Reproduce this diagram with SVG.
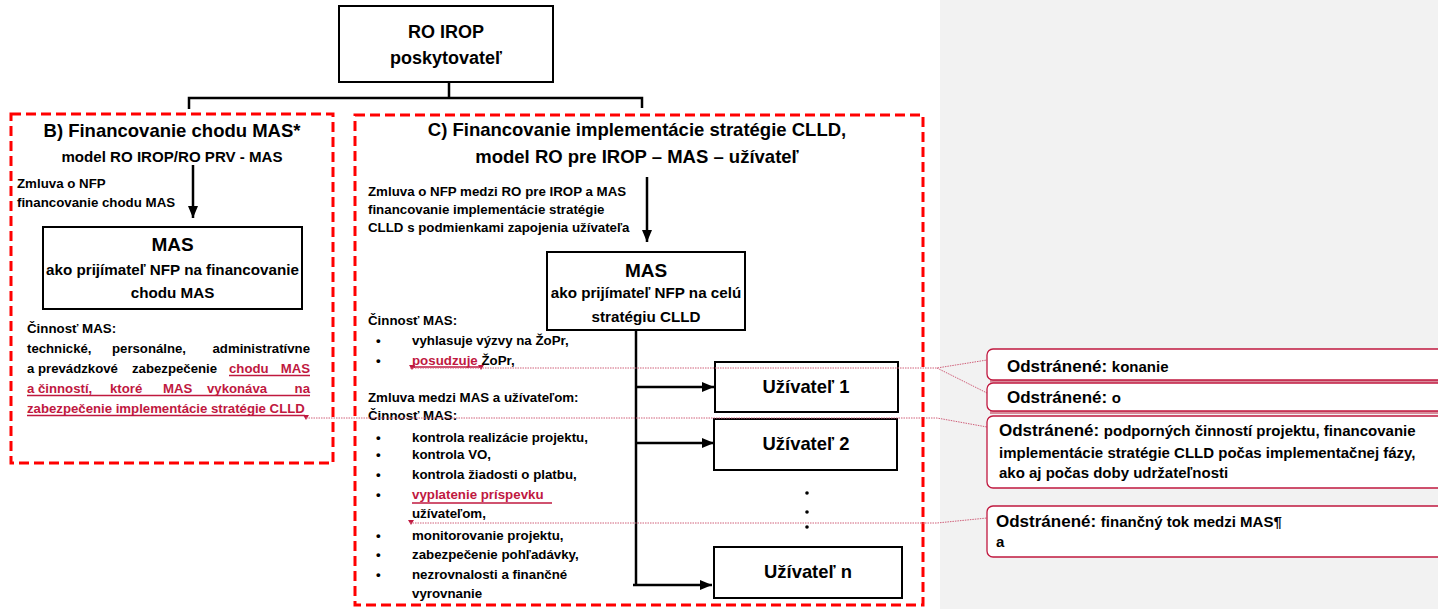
<svg xmlns="http://www.w3.org/2000/svg" width="1438" height="609" viewBox="0 0 1438 609">
<style>
text{font-family:"Liberation Sans",Arial,sans-serif;font-weight:bold;fill:#000}
.box{fill:#fff;stroke:#000;stroke-width:2}
.dash{fill:none;stroke:#ff0000;stroke-width:3;stroke-dasharray:10 5}
.c{text-anchor:middle}
.t13{font-size:13.3px}
.ttl{font-size:18.5px}
.red{fill:#c0183f}
.ul{stroke:#c0183f;stroke-width:1.3}
.con{fill:none;stroke:#000;stroke-width:2.5}
.trk{fill:none;stroke:#d0607a;stroke-width:1;stroke-dasharray:1.5 1}
.cmt{fill:#fff;stroke:#c0183f;stroke-width:1.3}
.car{fill:#c0183f}
.ct{font-size:15px}
.cb{font-size:17px}
</style>
<defs>
<marker id="ah" markerUnits="userSpaceOnUse" markerWidth="12" markerHeight="10" refX="12" refY="5" orient="auto">
<path d="M0,0 L12,5 L0,10 z" fill="#000"/>
</marker>
</defs>
<rect x="0" y="0" width="1438" height="609" fill="#fff"/>
<rect x="940" y="0" width="498" height="609" fill="#f2f2f2"/>

<g id="connectors">
<path class="con" d="M449 82 V98 M189 109 V98 H642 V108"/>
<line class="con" x1="193" y1="165" x2="193" y2="218" marker-end="url(#ah)"/>
<line class="con" x1="647" y1="177" x2="647" y2="242" marker-end="url(#ah)"/>
<path class="con" d="M636 330 V585"/>
<line class="con" x1="636" y1="387" x2="714" y2="387" marker-end="url(#ah)"/>
<line class="con" x1="636" y1="443" x2="714" y2="443" marker-end="url(#ah)"/>
<line class="con" x1="633" y1="585" x2="712" y2="585" marker-end="url(#ah)"/>
</g>

<g id="ro-irop">
<rect class="box" x="339" y="6" width="214" height="76"/>
<text class="c" x="446" y="38" font-size="18">RO IROP</text>
<text class="c" x="446" y="64" font-size="18">poskytovateľ</text>
</g>

<g id="section-b">
<rect class="dash" x="11" y="114" width="322" height="349"/>
<text class="c ttl" x="172" y="137">B) Financovanie chodu MAS*</text>
<text class="c" x="172" y="162" font-size="15.1">model RO IROP/RO PRV - MAS</text>
<text class="t13" x="17" y="188">Zmluva o NFP</text>
<text class="t13" x="17" y="207">financovanie chodu MAS</text>
<text class="t13" x="27" y="333">Činnosť MAS:</text>
<g font-size="13.2">
<text x="27" y="353" font-size="13.2">technické,</text>
<text x="112" y="353" font-size="13.2">personálne,</text>
<text x="310" y="353" font-size="13.2" text-anchor="end">administratívne</text>
<text x="27" y="373" font-size="13.2">a prevádzkové</text>
<text x="132" y="373" font-size="13.2">zabezpečenie</text>
<text class="red" x="229" y="373" font-size="13.2">chodu</text>
<text class="red" x="310" y="373" font-size="13.2" text-anchor="end">MAS</text>
<text class="red" x="27" y="393" font-size="13.2">a činností,</text>
<text class="red" x="110" y="393" font-size="13.2">ktoré</text>
<text class="red" x="163" y="393" font-size="13.2">MAS</text>
<text class="red" x="207" y="393" font-size="13.2">vykonáva</text>
<text class="red" x="310" y="393" font-size="13.2" text-anchor="end">na</text>
<text class="red" x="27" y="413" font-size="13.2">zabezpečenie implementácie stratégie CLLD</text>
</g>
<line class="ul" x1="229" y1="375.5" x2="310" y2="375.5"/>
<line class="ul" x1="27" y1="395.5" x2="310" y2="395.5"/>
<line class="ul" x1="27" y1="415.5" x2="305" y2="415.5"/>
<path class="car" d="M303 415 L309 415 L306 420 z"/>
</g>

<g id="mas-b">
<rect class="box" x="43" y="227" width="259" height="82"/>
<text class="c" x="172.5" y="251" font-size="19">MAS</text>
<text class="c" x="172.5" y="275" font-size="15.2">ako prijímateľ NFP na financovanie</text>
<text class="c" x="172.5" y="298" font-size="15.2">chodu MAS</text>
</g>

<g id="section-c">
<rect class="dash" x="355" y="115" width="568" height="490"/>
<text class="c ttl" x="637" y="136">C) Financovanie implementácie stratégie CLLD,</text>
<text class="c ttl" x="637" y="163">model RO pre IROP – MAS – užívateľ</text>
<text class="t13" x="368" y="196">Zmluva o NFP medzi RO pre IROP a MAS</text>
<text class="t13" x="368" y="214">financovanie implementácie stratégie</text>
<text class="t13" x="368" y="232">CLLD s podmienkami zapojenia užívateľa</text>
<text class="t13" x="368" y="325">Činnosť MAS:</text>
<g class="t13">
<text x="376" y="345" class="t13">•</text><text x="412" y="345" class="t13">vyhlasuje výzvy na ŽoPr,</text>
<text x="376" y="365" class="t13">•</text><text x="412" y="365" class="t13"><tspan class="red">posudzuje </tspan>ŽoPr,</text>
<text x="368" y="402" class="t13">Zmluva medzi MAS a užívateľom:</text>
<text x="368" y="420" class="t13">Činnosť MAS:</text>
<text x="376" y="442" class="t13">•</text><text x="412" y="442" class="t13">kontrola realizácie projektu,</text>
<text x="376" y="459" class="t13">•</text><text x="412" y="459" class="t13">kontrola VO,</text>
<text x="376" y="479" class="t13">•</text><text x="412" y="479" class="t13">kontrola žiadosti o platbu,</text>
<text x="376" y="499" class="t13">•</text><text x="412" y="499" class="t13 red">vyplatenie príspevku</text>
<text x="412" y="518" class="t13">užívateľom,</text>
<text x="376" y="540" class="t13">•</text><text x="412" y="540" class="t13">monitorovanie projektu,</text>
<text x="376" y="559" class="t13">•</text><text x="412" y="559" class="t13">zabezpečenie pohľadávky,</text>
<text x="376" y="579" class="t13">•</text><text x="412" y="579" class="t13">nezrovnalosti a finančné</text>
<text x="412" y="598" class="t13">vyrovnanie</text>
</g>
<line class="ul" x1="412" y1="367" x2="480" y2="367"/>
<line class="ul" x1="412" y1="503" x2="552" y2="503"/>
<path class="car" d="M409 365 L415 365 L412 370 z"/>
<path class="car" d="M478 365 L484 365 L481 370 z"/>
<path class="car" d="M408 520 L414 520 L411 525 z"/>
</g>

<g id="mas-c">
<rect class="box" x="547" y="252" width="198" height="78"/>
<text class="c" x="646" y="277" font-size="19">MAS</text>
<text class="c" x="646" y="298" font-size="15.2">ako prijímateľ NFP na celú</text>
<text class="c" x="646" y="322" font-size="15.2">stratégiu CLLD</text>
</g>

<g id="uzivatel-1">
<rect class="box" x="715" y="362" width="183" height="50"/>
<text class="c" x="806" y="393" font-size="18.4">Užívateľ 1</text>
</g>
<g id="uzivatel-2">
<rect class="box" x="714" y="419" width="183" height="51"/>
<text class="c" x="806" y="450" font-size="18.4">Užívateľ 2</text>
</g>
<g id="dots">
<circle cx="807" cy="493" r="1.8"/>
<circle cx="807" cy="512" r="1.8"/>
<circle cx="807" cy="527" r="1.8"/>
</g>
<g id="uzivatel-n">
<rect class="box" x="714" y="547" width="188" height="51"/>
<text class="c" x="808" y="578" font-size="18.4">Užívateľ n</text>
</g>

<g id="track-lines">
<path class="trk" d="M410 368 H937 L987 360 M937 368 L987 393"/>
<path class="trk" d="M306 418 H937 L987 427"/>
<path class="trk" d="M410 523 H937 L987 518"/>
</g>

<g id="comment-1">
<line x1="990" y1="381" x2="1438" y2="381" stroke="#d98a9a" stroke-width="3"/>
<rect class="cmt" x="987" y="349" width="470" height="31" rx="6"/>
<text x="1007" y="372"><tspan class="cb">Odstránené: </tspan><tspan class="ct">konanie</tspan></text>
</g>
<g id="comment-2">
<line x1="990" y1="412.5" x2="1438" y2="412.5" stroke="#d98a9a" stroke-width="3"/>
<rect class="cmt" x="987" y="383" width="470" height="28" rx="6"/>
<text x="1007" y="403"><tspan class="cb">Odstránené: </tspan><tspan class="ct">o</tspan></text>
</g>
<g id="comment-3">
<rect class="cmt" x="987" y="416" width="470" height="72" rx="6"/>
<text x="999" y="436"><tspan class="cb">Odstránené: </tspan><tspan class="ct">podporných činností projektu, financovanie</tspan></text>
<text x="999" y="458" class="ct">implementácie stratégie CLLD počas implementačnej fázy,</text>
<text x="999" y="478" class="ct">ako aj počas doby udržateľnosti</text>
</g>
<g id="comment-4">
<rect class="cmt" x="987" y="506" width="470" height="51" rx="6"/>
<text x="996" y="527"><tspan class="cb">Odstránené: </tspan><tspan class="ct">finančný tok medzi MAS¶</tspan></text>
<text x="996" y="547" class="ct">a</text>
</g>
</svg>
